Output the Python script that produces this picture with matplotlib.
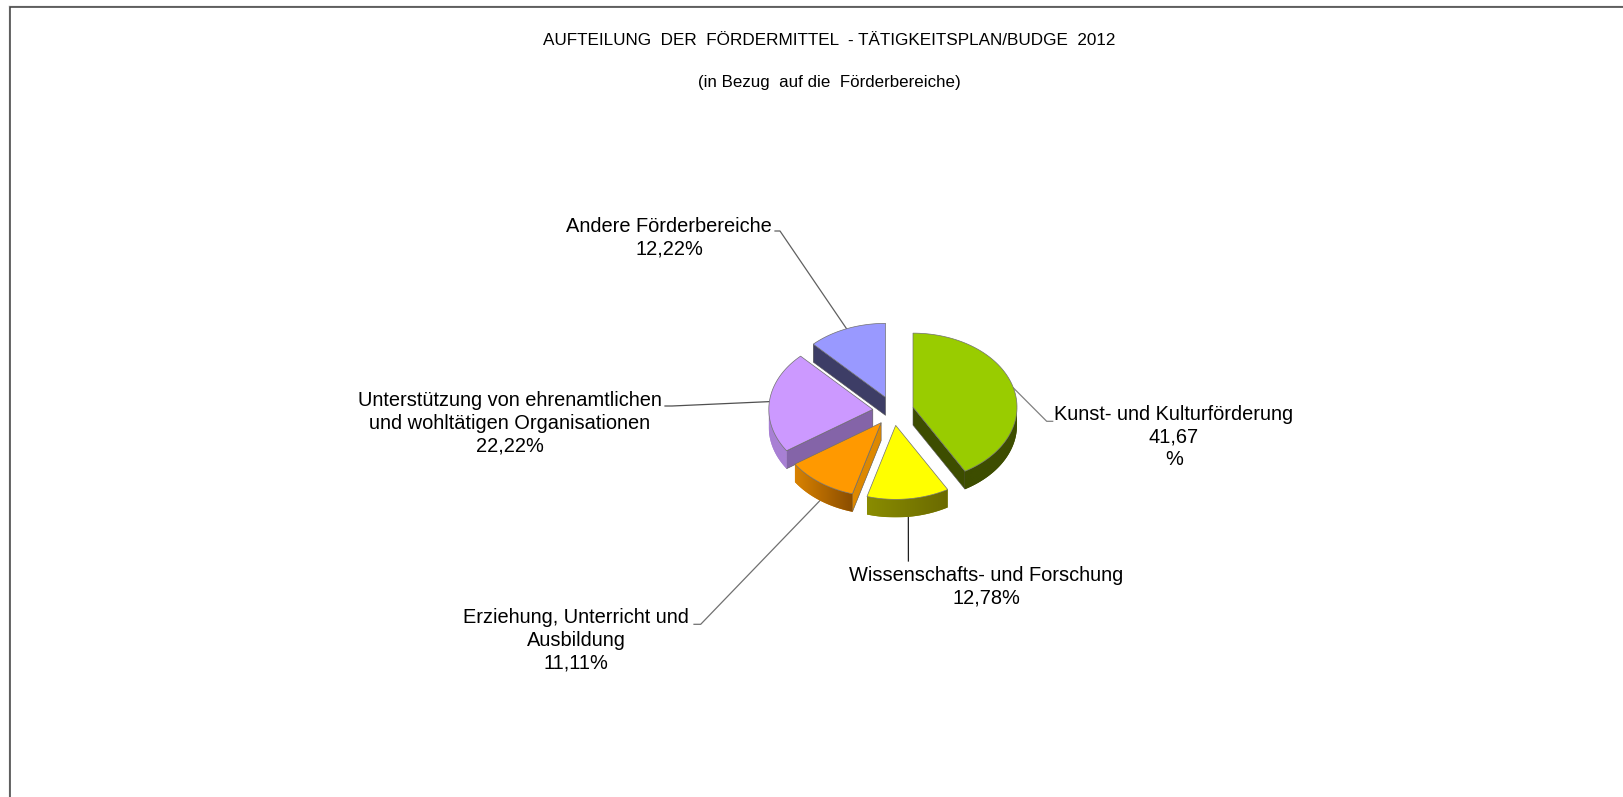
"""Exploded 3D-look pie: Aufteilung der Fördermittel 2012."""
import numpy as np
import matplotlib
matplotlib.use("Agg")
import matplotlib.pyplot as plt
from matplotlib.colors import to_rgb
from matplotlib.patches import Polygon

plt.rcParams["font.family"] = ["Liberation Sans", "DejaVu Sans"]

# data, clockwise from 12 o'clock
shares = [41.67, 12.78, 11.11, 22.22, 12.22]
top_colors = ["#99CC00", "#FFFF00", "#FF9900", "#CC99FF", "#9999FF"]
rim_left = ["#3D4D00", "#8A8C00", "#D98200", "#A880D4", "#3D3D66"]
rim_right = ["#3D4D00", "#6A6A00", "#8A4D00", "#A880D4", "#3D3D66"]
cut_colors = ["#3D4D00", "#6A6A00", "#DD8800", "#8464A8", "#3D3D66"]

title = "AUFTEILUNG  DER  FÖRDERMITTEL  - TÄTIGKEITSPLAN/BUDGE  2012"
subtitle = "(in Bezug  auf die  Förderbereiche)"

# pie layout in pixels
CX, CY = 893.2, 410.9
RX, RY = 104, 74
EXPLODE = 20.5
DEPTH = 18
DRAW_ORDER = [4, 0, 3, 2, 1]

fig = plt.figure(figsize=(16.24, 7.97), dpi=100, facecolor="white")
ax = fig.add_axes([0, 0, 1, 1])
ax.axis("off")

# frame, only left and top are in view
ax.plot([9.2, 9.2], [6, 797], color="#C8C8C8", lw=1, zorder=1)
ax.plot([0 + 9.2, 1624], [5.8, 5.8], color="#C8C8C8", lw=1, zorder=1)
ax.plot([10.5, 10.5, 1624], [797, 7, 7], color="#404040", lw=1.1, zorder=2,
        solid_joinstyle="miter")


def rim_point(apex, deg):
    a = np.radians(deg)
    return apex[0] + RX * np.sin(a), apex[1] - RY * np.cos(a)


bounds = np.concatenate([[0], np.cumsum(shares)]) * 360 / sum(shares)
mids = (bounds[:-1] + bounds[1:]) / 2
apexes = [(CX + EXPLODE * np.sin(np.radians(m)),
           CY - EXPLODE * RY / RX * np.cos(np.radians(m))) for m in mids]

z = 5
for i in DRAW_ORDER:
    start, end = bounds[i], bounds[i + 1]
    apex = apexes[i]

    # the cut face looking at the viewer
    cut_deg = None
    if 90 < end < 180:
        cut_deg = end
    elif 180 <= start < 360:
        cut_deg = start
    if cut_deg is not None:
        px, py = rim_point(apex, cut_deg)
        ax.add_patch(Polygon([apex, (px, py), (px, py + DEPTH), (apex[0], apex[1] + DEPTH)],
                             fc=cut_colors[i], ec="#555555", lw=0.4, zorder=z))
        z += 1

    # outer rim, only its lower half shows; gradient runs left to right on screen
    lo, hi = max(start, 90), min(end, 270)
    if hi > lo:
        upper = [rim_point(apex, d) for d in np.linspace(lo, hi, 60)]
        lower = [(x, y + DEPTH) for x, y in upper[::-1]]
        outline = np.array(upper + lower)
        rim = Polygon(outline, fc=rim_left[i], ec="none", zorder=z)
        ax.add_patch(rim)
        c0, c1 = np.array(to_rgb(rim_left[i])), np.array(to_rgb(rim_right[i]))
        grad = np.linspace(c0, c1, 128)[None, :, :]
        im = ax.imshow(grad, extent=[outline[:, 0].min(), outline[:, 0].max(),
                                     outline[:, 1].max(), outline[:, 1].min()],
                       aspect="auto", zorder=z, interpolation="bilinear")
        im.set_clip_path(rim)
        z += 1

    arc = [rim_point(apex, d) for d in np.linspace(start, end, 80)]
    ax.add_patch(Polygon([apex] + arc, fc=top_colors[i], ec="#707070", lw=0.5, zorder=z))
    z += 1

ax.set_xlim(0, 1624)
ax.set_ylim(797, 0)

# titles
ax.text(829, 40, title, fontsize=12.35, ha="center", va="center", color="black")
ax.text(829, 82.5, subtitle, fontsize=12.2, ha="center", va="center", color="black")

# data labels
label_font = 14.45
spacing = 1.24
ax.text(1174, 437, "Kunst- und Kulturförderung\n41,67\n%", fontsize=label_font,
        ha="center", va="center", linespacing=spacing)
ax.text(986, 586.5, "Wissenschafts- und Forschung\n12,78%", fontsize=label_font,
        ha="center", va="center", linespacing=spacing)
ax.text(576, 640.5, "Erziehung, Unterricht und\nAusbildung\n11,11%", fontsize=label_font,
        ha="center", va="center", linespacing=spacing)
ax.text(510, 423, "Unterstützung von ehrenamtlichen\nund wohltätigen Organisationen\n22,22%",
        fontsize=label_font, ha="center", va="center", linespacing=spacing)
ax.text(669, 237.5, "Andere Förderbereiche\n12,22%", fontsize=label_font,
        ha="center", va="center", linespacing=spacing)

# leader lines: elbow by the label, other end at the middle of the wedge's rim
leaders = [
    (0, [(1052.7, 421.3), (1046.7, 421.3)], 0, "#808080"),
    (1, [(908.4, 561)], DEPTH, "#202020"),
    (2, [(694, 624.3), (700.7, 624.3)], DEPTH, "#707070"),
    (3, [(665, 406), (672, 406)], 0, "#505050"),
    (4, [(775, 231), (780, 231)], 0, "#606060"),
]
for i, pts, drop, col in leaders:
    ex, ey = rim_point(apexes[i], mids[i])
    xs = [p[0] for p in pts] + [ex]
    ys = [p[1] for p in pts] + [ey + drop]
    ax.plot(xs, ys, color=col, lw=0.9, zorder=3)

fig.savefig("out.png", dpi=100, facecolor="white")
plt.close(fig)
